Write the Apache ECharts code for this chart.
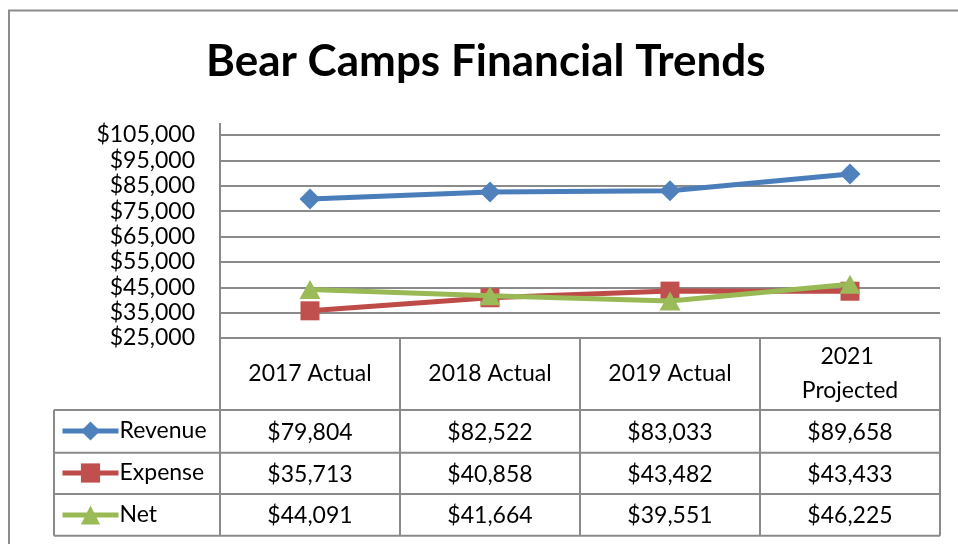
<!DOCTYPE html>
<html>
<head>
<meta charset="utf-8">
<script src="https://cdn.jsdelivr.net/npm/echarts@6/dist/echarts.min.js"></script>
<style>
html,body{margin:0;padding:0;background:#fff;}
#c{width:958px;height:544px;}
</style>
</head>
<body>
<div id="c"></div>
<script>
var titleText = 'Bear Camps Financial Trends';
var categories = ['2017 Actual', '2018 Actual', '2019 Actual', '2021 Projected'];
var seriesNames = ['Revenue', 'Expense', 'Net'];
var revenue = [79804, 82522, 83033, 89658];
var expense = [35713, 40858, 43482, 43433];
var net = [44091, 41664, 39551, 46225];
var yMin = 25000, yMax = 105000, yStep = 10000;

var FONT = 'Lato';
var GRID_L = 220, GRID_R = 940, GRID_T = 135, GRID_B = 338;
var ROWS = [410, 452.7, 494, 535.7];
var LEG_L = 54, HDR_T = 338;
var lineColor = '#8a8a8a';

function money(v){ return '$' + v.toLocaleString('en-US'); }

var chart = echarts.init(document.getElementById('c'));
var dataRows = [revenue, expense, net];
var colW = (GRID_R - GRID_L) / categories.length;

var graphics = [];
graphics.push({type:'rect', shape:{x:9, y:10.5, width:1000, height:600}, style:{fill:'none', stroke:'#8c8c8c', lineWidth:2}, silent:true});
graphics.push({type:'line', shape:{x1:GRID_L, y1:123, x2:GRID_L, y2:GRID_T}, style:{stroke:lineColor, lineWidth:2}});
function hl(y, x1, x2){ graphics.push({type:'line', shape:{x1:x1, y1:y, x2:x2, y2:y}, style:{stroke:lineColor, lineWidth:2}}); }
function vl(x, y1, y2){ graphics.push({type:'line', shape:{x1:x, y1:y1, x2:x, y2:y2}, style:{stroke:lineColor, lineWidth:2}}); }
for (var i = 0; i <= categories.length; i++) vl(GRID_L + i*colW, HDR_T, ROWS[ROWS.length-1]);
vl(LEG_L, ROWS[0], ROWS[ROWS.length-1]);
for (var r = 0; r < ROWS.length; r++) hl(ROWS[r], LEG_L, GRID_R);
for (var i = 0; i < categories.length; i++) {
  graphics.push({type:'text', x: GRID_L + (i+0.5)*colW, y:(HDR_T+ROWS[0])/2,
    style:{text:categories[i], fontFamily:FONT, fontSize:23, fill:'#000', align:'center', verticalAlign:'middle', width:150, overflow:'break', lineHeight:34}});
}
for (var s = 0; s < dataRows.length; s++) {
  for (var i = 0; i < categories.length; i++) {
    graphics.push({type:'text', x: GRID_L + (i+0.5)*colW, y:(ROWS[s]+ROWS[s+1])/2 + 1,
      style:{text:money(dataRows[s][i]), fontFamily:FONT, fontSize:23, fill:'#000', align:'center', verticalAlign:'middle'}});
  }
}

var colors = ['#4A7EBB', '#BE4B48', '#98B954'];
var markColors = ['#4F81BD', '#C0504D', '#9BBB59'];
var symbols = ['diamond', 'rect', 'triangle'];
var symSizes = [[21,21],[19,19],[21,19]];

var series = seriesNames.map(function(n, k){
  return {
    name:n, type:'line', data:dataRows[k], symbol:symbols[k], symbolSize:symSizes[k],
    lineStyle:{color:colors[k], width:5}, itemStyle:{color:markColors[k]},
    showSymbol:true, animation:false, z:2+k
  };
});

chart.setOption({
  animation:false,
  title:{text:titleText, left:206, top:40, padding:0, textStyle:{fontFamily:FONT, fontSize:44, fontWeight:'bold', color:'#000'}},
  legend:{orient:'vertical', left:60, top:419, padding:0, itemWidth:56, itemHeight:24, itemGap:18,
    lineStyle:{width:5},
    textStyle:{fontFamily:FONT, fontSize:23, lineHeight:24, color:'#000', padding:[0,0,0,-4]}, data:seriesNames, selectedMode:false},
  grid:{left:GRID_L, right:958-GRID_R, top:GRID_T, bottom:544-GRID_B, containLabel:false},
  xAxis:{type:'category', data:categories, boundaryGap:true,
    axisLine:{show:true, lineStyle:{color:lineColor, width:2}}, axisTick:{show:false}, axisLabel:{show:false}},
  yAxis:{type:'value', min:yMin, max:yMax, interval:yStep,
    axisLine:{show:true, lineStyle:{color:lineColor, width:2}}, axisTick:{show:false},
    splitLine:{show:true, lineStyle:{color:lineColor, width:2}},
    axisLabel:{margin:25, fontFamily:FONT, fontSize:23, color:'#000', formatter:function(v){return money(v);}}},
  series:series,
  graphic:graphics
});
</script>
</body>
</html>
